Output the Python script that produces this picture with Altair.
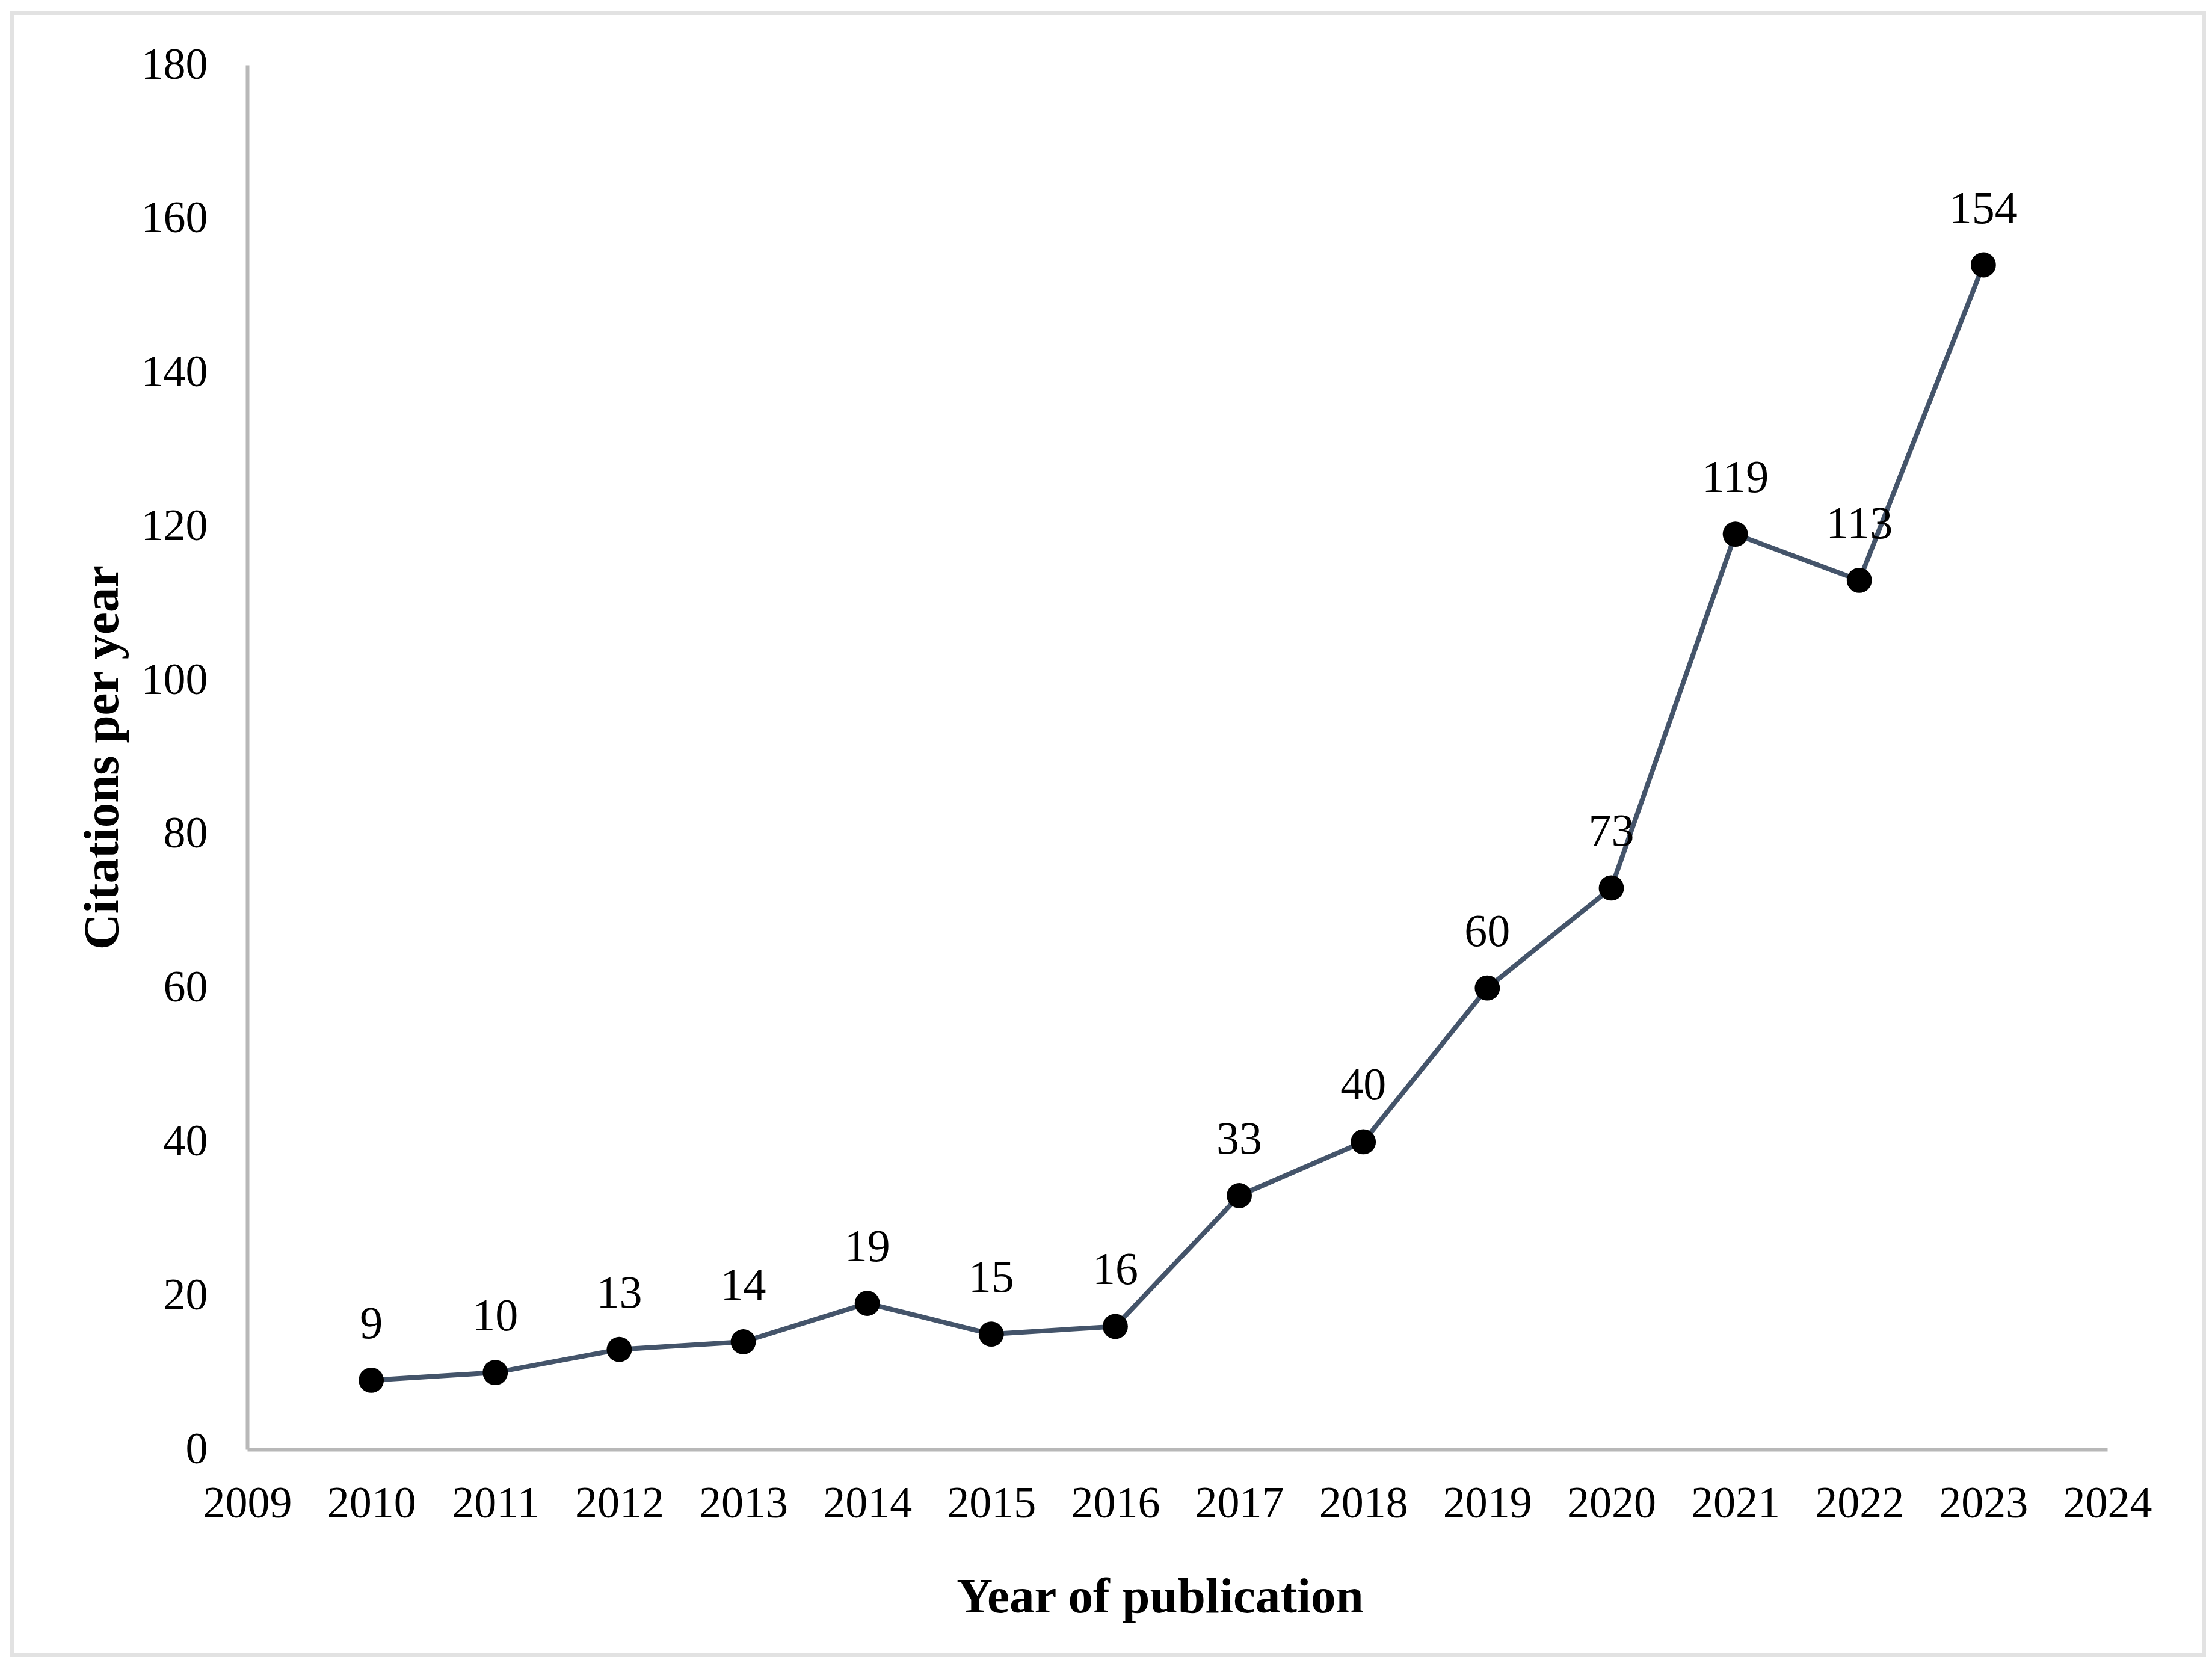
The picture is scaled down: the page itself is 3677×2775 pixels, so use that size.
import altair as alt
import pandas as pd

years = [2010, 2011, 2012, 2013, 2014, 2015, 2016, 2017, 2018, 2019, 2020, 2021, 2022, 2023]
citations = [9, 10, 13, 14, 19, 15, 16, 33, 40, 60, 73, 119, 113, 154]
x_ticks = list(range(2009, 2025))
y_ticks = list(range(0, 181, 20))

df = pd.DataFrame({"year": years, "citations": citations})
frame_df = pd.DataFrame({"k": [0]})

FONT = "Liberation Serif"
LINE_COLOR = "#44546A"

x_enc = alt.X(
    "year:Q",
    scale=alt.Scale(domain=[2009, 2024], nice=False, zero=False),
    axis=alt.Axis(
        values=x_ticks,
        format="d",
        title="Year of publication",
        titleX=1517,
        titleY=270,
        titleBaseline="alphabetic",
        labelBaseline="middle",
        labelPadding=90,
        labelOverlap=False,
        labelFlush=False,
    ),
)
y_enc = alt.Y(
    "citations:Q",
    scale=alt.Scale(domain=[0, 180], nice=False),
    axis=alt.Axis(
        values=y_ticks,
        title="Citations per year",
        titleX=-216,
        titleY=1151,
        titleAngle=270,
        titleAlign="center",
        titleBaseline="alphabetic",
        labelPadding=66,
        labelOverlap=False,
        labelFlush=False,
    ),
)

frame = alt.Chart(frame_df).mark_rect(
    filled=False, stroke="#e2e2e2", strokeWidth=6
).encode(
    x=alt.value(-391), x2=alt.value(3253), y=alt.value(-86), y2=alt.value(2644)
)

line = alt.Chart(df).mark_line(color=LINE_COLOR, strokeWidth=8).encode(x=x_enc, y=y_enc)

points = alt.Chart(df).mark_circle(color="black", opacity=1, size=1750).encode(
    x="year:Q", y="citations:Q"
)

labels = alt.Chart(df).mark_text(
    font=FONT, fontSize=76, color="black", baseline="alphabetic", dy=-70
).encode(x="year:Q", y="citations:Q", text="citations:Q")

chart = (
    alt.layer(frame, line, points, labels)
    .properties(
        width=3092,
        height=2302,
        autosize=alt.AutoSizeParams(type="none"),
        padding={"left": 403, "top": 100, "right": 164, "bottom": 345},
        background="white",
    )
    .configure_view(stroke=None)
    .configure_axis(
        grid=False,
        ticks=False,
        domainColor="#b8b8b8",
        domainWidth=6,
        labelFont=FONT,
        labelFontSize=74,
        labelColor="black",
        titleFont=FONT,
        titleFontSize=83,
        titleFontWeight="bold",
        titleColor="black",
    )
)

chart.save("out.html", embed_options={"renderer": "svg", "actions": False})
